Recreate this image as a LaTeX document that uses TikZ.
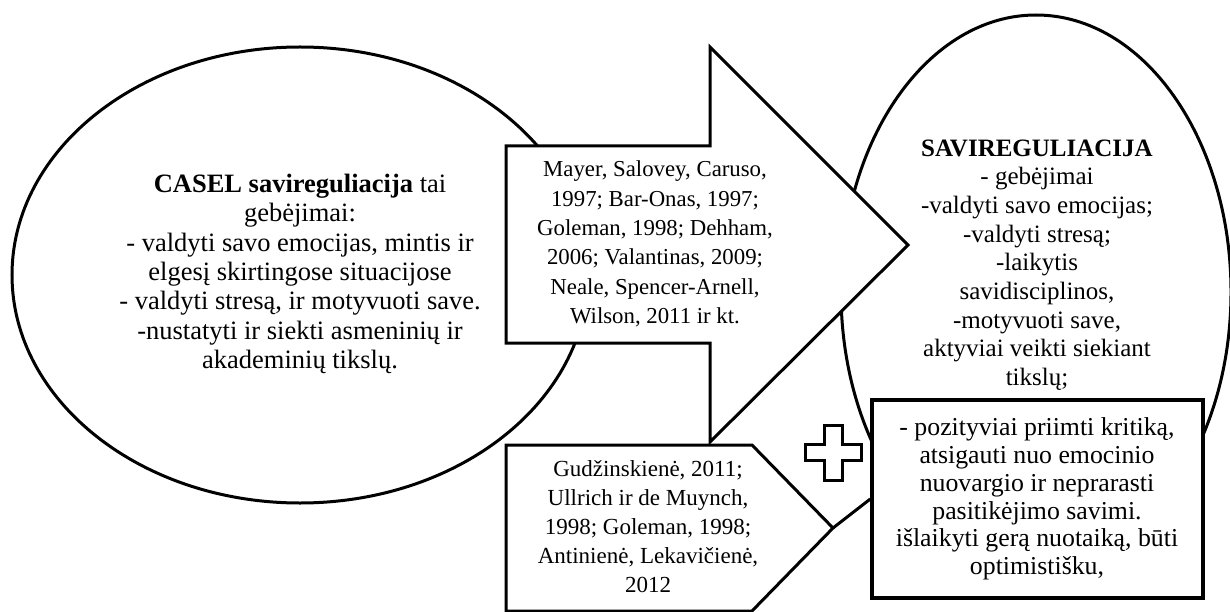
\documentclass[tikz,border=0pt]{standalone}
\usepackage{fontspec}
\setmainfont{Liberation Serif}
\usetikzlibrary{shapes.geometric}
\tikzset{
  outline/.style={draw=black, line width=3pt, fill=white, line join=miter},
  oval/.style={outline, ellipse, inner sep=0pt},
  txt/.style={align=center, inner sep=0pt, text=black},
}
\begin{document}
\begin{tikzpicture}[x=1pt,y=-1pt]
\useasboundingbox (0,0) rectangle (1230,612);
\clip (0,0) rectangle (1230,612);

% the two ovals
\node[oval, minimum width=576pt, minimum height=456pt] (leftoval) at (300,275) {};
\node[oval, minimum width=390pt, minimum height=554pt] (rightoval) at (1036,292) {};

% large block arrow pointing right
\draw[outline] (506,146) -- (710,146) -- (710,47) -- (908,245) -- (710,442)
  -- (710,343) -- (506,343) -- cycle;

% pentagon pointer below it
\draw[outline] (506,445) -- (752,445) -- (833,528) -- (752,611) -- (506,611) -- cycle;
\coordinate (btip) at (833,528);

% framed box at the lower right
\node[outline, line width=3.5pt, minimum width=331pt, minimum height=198pt, inner sep=0pt]
  (box) at (1037.5,499) {};
\draw[line width=3pt] (btip) -- (box.west);

% plus sign
\draw[outline] (824.5,425.5) -- (842.5,425.5) -- (842.5,444.5) -- (861.5,444.5)
  -- (861.5,460.5) -- (842.5,460.5) -- (842.5,480.5) -- (824.5,480.5)
  -- (824.5,460.5) -- (805.5,460.5) -- (805.5,444.5) -- (824.5,444.5) -- cycle;

% texts
\node[txt, font=\fontsize{26.5}{29.3}\selectfont] (lefttext) at (300,274)
  {\textbf{CASEL savireguliacija} tai\\ gebėjimai:\\ - valdyti savo emocijas, mintis ir\\
   elgesį skirtingose situacijose\\ - valdyti stresą, ir motyvuoti save.\\
   -nustatyti ir siekti asmeninių ir\\ akademinių tikslų.};

\node[txt, font=\fontsize{22.8}{29.4}\selectfont] (toptext) at (655,244)
  {Mayer, Salovey, Caruso,\\ 1997; Bar-Onas, 1997;\\ Goleman, 1998; Dehham,\\
   2006; Valantinas, 2009;\\ Neale, Spencer-Arnell,\\ Wilson, 2011 ir kt.};

\node[txt, font=\fontsize{23}{29}\selectfont] (bottomtext) at (648,527)
  {Gudžinskienė, 2011;\\ Ullrich ir de Muynch,\\ 1998; Goleman, 1998;\\
   Antinienė, Lekavičienė,\\ 2012};

\node[txt, font=\fontsize{25}{28.7}\selectfont] (righttext) at (1037,265)
  {\textbf{SAVIREGULIACIJA}\\ - gebėjimai\\ -valdyti savo emocijas;\\ -valdyti stresą;\\
   -laikytis\\ savidisciplinos,\\ -motyvuoti save,\\ aktyviai veikti siekiant\\ tikslų;};

\node[txt, font=\fontsize{25.8}{27.7}\selectfont] (boxtext) at (1037,499)
  {- pozityviai priimti kritiką,\\ atsigauti nuo emocinio\\ nuovargio ir neprarasti\\
   pasitikėjimo savimi.\\ išlaikyti gerą nuotaiką, būti\\ optimistišku,};
\end{tikzpicture}
\end{document}
